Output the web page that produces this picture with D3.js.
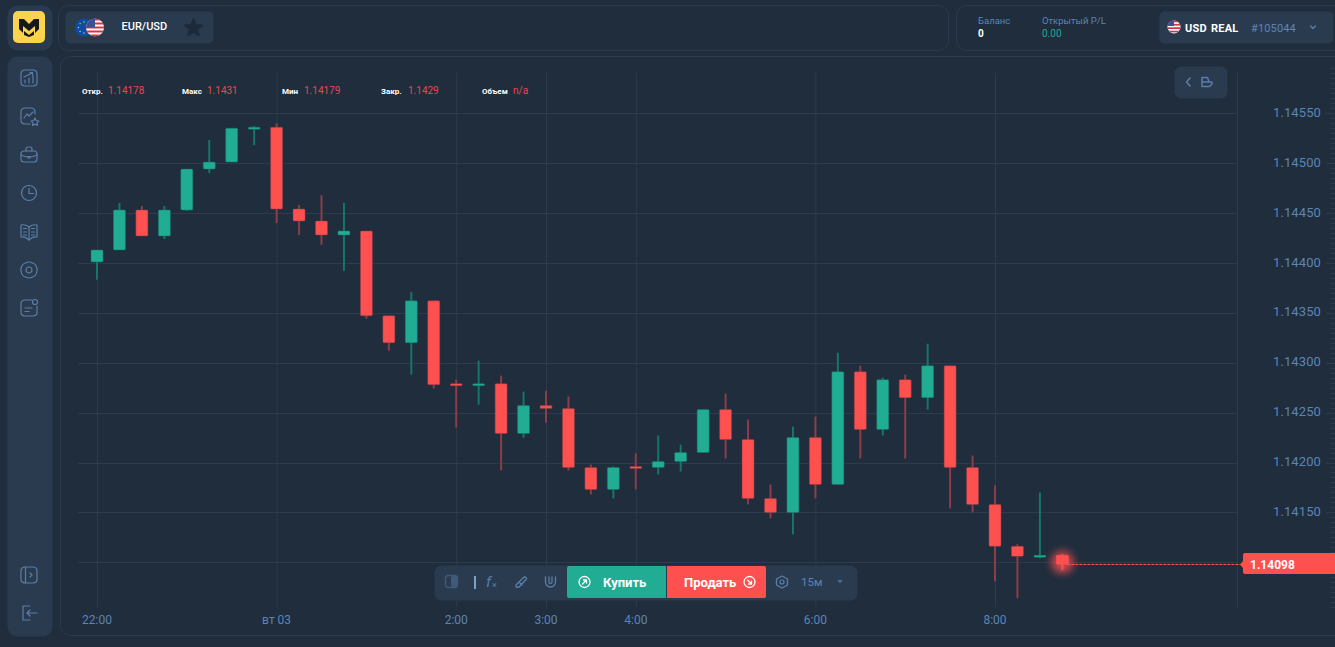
<!DOCTYPE html>
<html>
<head>
<meta charset="utf-8">
<script src="https://cdn.jsdelivr.net/npm/d3@7"></script>
<style>
  html, body { margin: 0; padding: 0; background: #1f2d3d; overflow: hidden; }
  svg { display: block; font-family: Roboto, sans-serif; }
</style>
</head>
<body>
<svg id="chart" width="1335" height="647"></svg>
<script>
// candles, 15 minutes apart, starting 22:00
var opens = [1.14401,1.14413,1.14453,1.14427,1.14453,1.14494,1.14501,1.14535,1.14536,1.14454,1.14442,1.14428,1.14432,1.14347,1.14320,1.14362,1.14279,1.14277,1.14279,1.14229,1.14257,1.14254,1.14195,1.14173,1.14196,1.14195,1.14201,1.14210,1.14253,1.14223,1.14164,1.14150,1.14225,1.14178,1.14291,1.14233,1.14283,1.14265,1.14297,1.14195,1.14158,1.14116,1.14106,1.14107];
var highs = [1.14413,1.14460,1.14457,1.14457,1.14494,1.14523,1.14535,1.14537,1.14540,1.14458,1.14468,1.14460,1.14432,1.14347,1.14371,1.14362,1.14283,1.14302,1.14287,1.14271,1.14272,1.14266,1.14198,1.14196,1.14209,1.14227,1.14218,1.14253,1.14269,1.14243,1.14178,1.14236,1.14246,1.14310,1.14297,1.14285,1.14288,1.14319,1.14297,1.14207,1.14177,1.14118,1.14170,1.14108];
var lows = [1.14383,1.14413,1.14427,1.14424,1.14452,1.14490,1.14501,1.14518,1.14440,1.14428,1.14418,1.14392,1.14344,1.14312,1.14288,1.14274,1.14235,1.14258,1.14192,1.14225,1.14240,1.14192,1.14168,1.14164,1.14173,1.14188,1.14191,1.14210,1.14204,1.14158,1.14144,1.14128,1.14164,1.14178,1.14204,1.14227,1.14204,1.14253,1.14154,1.14150,1.14081,1.14064,1.14104,1.14092];
var closes = [1.14413,1.14453,1.14427,1.14453,1.14494,1.14501,1.14535,1.14536,1.14454,1.14442,1.14428,1.14432,1.14347,1.14320,1.14362,1.14278,1.14277,1.14279,1.14229,1.14257,1.14254,1.14195,1.14173,1.14195,1.14194,1.14201,1.14210,1.14253,1.14223,1.14164,1.14150,1.14225,1.14178,1.14291,1.14233,1.14283,1.14265,1.14297,1.14195,1.14158,1.14116,1.14106,1.14107,1.14098];

var price_ticks = [1.1410,1.1415,1.1420,1.1425,1.1430,1.1435,1.1440,1.1445,1.1450,1.1455];
var minor_ticks = d3.range(1.14055,1.14595,0.00005);
var time_hours = [22,24,26,27,28,30,32];
var time_labels = ['22:00','вт 03','2:00','3:00','4:00','6:00','8:00'];
var ohlc_names = ['Откр.','Макс','Мин','Закр.','Объем'];
var ohlc_values = ['1.14178','1.1431','1.14179','1.1429','n/a'];
var last_price = 1.14098;

var bg = '#1f2d3d', panel = '#2a3b50', border = '#2b3a4d', grid = '#2c3b4e';
var green = '#21ad94', red = '#ff5050', green_wick = '#17756b', red_wick = '#8c3d48';
var label_col = '#5c85b5', icon_col = '#5b7ea6';

var svg = d3.select('#chart');

var start = new Date(2025, 5, 2, 22, 0);
function at_hour(h) { return d3.timeMinute.offset(start, (h - 22) * 60); }

var x = d3.scaleTime().domain([at_hour(22), at_hour(32)]).range([97, 995]);
var y = d3.scaleLinear().domain([1.141, 1.1455]).range([562.3, 113.2]);

// ---- panels
function box(x0, y0, w, h, r, fill, stroke) {
  return svg.append('rect')
    .attr('x', x0 + 0.5).attr('y', y0 + 0.5)
    .attr('width', w).attr('height', h).attr('rx', r)
    .attr('fill', fill).attr('stroke', stroke || 'none');
}
box(7, 5, 45, 45, 10, panel);
box(7, 56, 45, 580, 10, panel);
box(58, 5, 890, 45, 10, 'none', border);
box(956, 5, 400, 45, 10, 'none', border);
box(60, 56, 1300, 579, 10, 'none', border);

// ---- grid and axes
var grid_layer = svg.append('g');

var x_axis = d3.axisBottom(x)
  .tickValues(time_hours.map(at_hour))
  .tickFormat(function(d, i) { return time_labels[i]; })
  .tickSize(-534)
  .tickPadding(8);
var gx = grid_layer.append('g').attr('transform', 'translate(0,607)').call(x_axis);
gx.select('.domain').remove();
gx.selectAll('line').attr('stroke', grid);
gx.selectAll('text').attr('fill', label_col).attr('dx', -0.5)
  .style('font-size', '12px').style('font-family', 'Roboto');

// the 1.14100 label sits behind the last price tag, so it is left blank
var y_axis = d3.axisRight(y)
  .tickValues(price_ticks)
  .tickFormat(function(d) { return d === 1.1410 ? '' : d3.format('.5f')(d); })
  .tickSize(0)
  .tickPadding(36);
var gy = grid_layer.append('g').attr('transform', 'translate(1237,-1)').call(y_axis);
gy.select('.domain').remove();
gy.selectAll('text').attr('fill', label_col).style('font-size', '13px')
  .style('letter-spacing', '0.1px').style('font-family', 'Roboto');

grid_layer.append('g').selectAll('line')
  .data(price_ticks).enter().append('line')
  .attr('x1', 78).attr('x2', 1237)
  .attr('y1', function(d) { return Math.round(y(d)) + 0.5; })
  .attr('y2', function(d) { return Math.round(y(d)) + 0.5; })
  .attr('stroke', grid);

grid_layer.append('line')
  .attr('x1', 1237.5).attr('x2', 1237.5).attr('y1', 73).attr('y2', 607)
  .attr('stroke', grid);

// small ticks on the right edge of the price scale
grid_layer.append('g').selectAll('line')
  .data(minor_ticks).enter().append('line')
  .attr('x1', 1330).attr('x2', 1335)
  .attr('y1', function(d) { return Math.round(y(d)) + 0.5; })
  .attr('y2', function(d) { return Math.round(y(d)) + 0.5; })
  .attr('stroke', grid);
grid_layer.append('g').selectAll('line')
  .data(price_ticks).enter().append('line')
  .attr('x1', 1326).attr('x2', 1335)
  .attr('y1', function(d) { return Math.round(y(d)) + 0.5; })
  .attr('y2', function(d) { return Math.round(y(d)) + 0.5; })
  .attr('stroke', grid);

// ---- candles
var defs = svg.append('defs');
defs.append('filter').attr('id', 'glow')
  .attr('x', '-100%').attr('y', '-100%').attr('width', '300%').attr('height', '300%')
  .append('feGaussianBlur').attr('stdDeviation', 4);

var candles = opens.map(function(o, i) {
  return { i: i, open: o, high: highs[i], low: lows[i], close: closes[i],
           time: d3.timeMinute.offset(start, i * 15) };
});
var last_i = candles.length - 1;

svg.append('circle')
  .attr('cx', x(candles[last_i].time)).attr('cy', y(last_price) - 2).attr('r', 11)
  .attr('fill', red).attr('opacity', 0.8).attr('filter', 'url(#glow)');

var candle_g = svg.append('g').selectAll('g')
  .data(candles).enter().append('g')
  .attr('transform', function(d) { return 'translate(' + x(d.time) + ',0)'; });

function wick_col(d) {
  if (d.i === last_i) return red;
  return d.close >= d.open ? green_wick : red_wick;
}

candle_g.append('line')
  .attr('y1', function(d) { return y(d.high); })
  .attr('y2', function(d) { return y(d.low); })
  .attr('stroke', wick_col)
  .attr('stroke-width', 2);

candle_g.append('rect')
  .attr('x', -6).attr('width', 12).attr('rx', 1)
  .attr('y', function(d) { return y(Math.max(d.open, d.close)); })
  .attr('height', function(d) { return Math.max(2, Math.abs(y(d.open) - y(d.close))); })
  .attr('fill', function(d) { return d.close >= d.open ? green : red; })
  .attr('stroke', wick_col)
  .attr('stroke-width', 0.5);

// ---- last price line and tag
var tag_y = Math.round(y(last_price));
svg.append('line')
  .attr('x1', x(candles[last_i].time) + 5).attr('x2', 1243)
  .attr('y1', tag_y + 0.5).attr('y2', tag_y + 0.5)
  .attr('stroke', red).attr('stroke-dasharray', '3,1');

svg.append('path')
  .attr('d', 'M1240,' + (tag_y + 0.5) + ' L1243,' + (tag_y - 3) + ' V' + (tag_y - 9) + ' Q1243,' + (tag_y - 11) + ' 1245,' + (tag_y - 11) +
    ' H1335 V' + (tag_y + 10) + ' H1245 Q1243,' + (tag_y + 10) + ' 1243,' + (tag_y + 8) + ' V' + (tag_y + 4) + ' Z')
  .attr('fill', red);
svg.append('text')
  .attr('x', 1250).attr('y', tag_y + 4.5)
  .attr('fill', '#fff').attr('font-weight', 700).attr('font-size', 12)
  .text(d3.format('.5f')(last_price));

// ---- OHLC legend
var ohlc_x = [82, 182, 282, 381, 482], ohlc_val_x = [108, 207, 304, 408, 513];
ohlc_names.forEach(function(n, i) {
  svg.append('text').attr('x', ohlc_x[i]).attr('y', 93.5)
    .attr('fill', '#fff').attr('font-size', 8).attr('font-weight', 700).text(n);
  svg.append('text').attr('x', ohlc_val_x[i]).attr('y', 94)
    .attr('fill', '#ee4450').attr('font-size', 10).text(ohlc_values[i]);
});

// ---- collapse button top right of the chart
box(1174, 66, 53, 32, 7, panel);
function icon(d, sw, col) {
  return svg.append('path').attr('d', d).attr('fill', 'none')
    .attr('stroke', col || icon_col).attr('stroke-width', sw || 1.2)
    .attr('stroke-linecap', 'round').attr('stroke-linejoin', 'round');
}
icon('M1190,78 L1186.5,82 L1190,86', 1.5);
icon('M1202,77.5 H1207.5 L1209,82 H1212 V84 L1209.5,86.5 H1202 Z M1202,82 H1209', 1.5);

// ---- header left
var logo = svg.append('g');
logo.append('rect').attr('x', 13).attr('y', 11).attr('width', 32).attr('height', 32).attr('rx', 5).attr('fill', '#fdd34e');
logo.append('path').attr('d', 'M19,19 L24,19 L29,24 L34,19 L39,19 L39,29 L35,33 L35,26 L29,31 L23,26 L23,33 L19,29 Z M24,31 L29,35 L34,31 L34,35 L29,37 L24,35 Z')
  .attr('fill', '#15181c');

box(65, 11, 148, 32, 5, panel);
svg.append('circle').attr('cx', 84).attr('cy', 27.5).attr('r', 9).attr('fill', '#0b4ea2');
d3.range(8).forEach(function(i) {
  var a = i * Math.PI / 4;
  svg.append('circle').attr('cx', 84 + 5.5 * Math.cos(a)).attr('cy', 27.5 + 5.5 * Math.sin(a)).attr('r', 0.7).attr('fill', '#f5d33e');
});
defs.append('clipPath').attr('id', 'us1').append('circle').attr('cx', 95).attr('cy', 27.5).attr('r', 9);
var us1 = svg.append('g').attr('clip-path', 'url(#us1)');
us1.append('rect').attr('x', 86).attr('y', 18.5).attr('width', 18).attr('height', 18).attr('fill', '#fff');
d3.range(5).forEach(function(i) {
  us1.append('rect').attr('x', 86).attr('y', 18.5 + i * 4).attr('width', 18).attr('height', 2).attr('fill', '#d8343f');
});
us1.append('rect').attr('x', 86).attr('y', 18.5).attr('width', 9).attr('height', 9).attr('fill', '#3c4f95');

svg.append('text').attr('x', 121.5).attr('y', 30).attr('fill', '#fff').attr('font-size', 11).attr('font-weight', 500).text('EUR/USD');
svg.append('path')
  .attr('d', d3.symbol().type(d3.symbolStar).size(80)())
  .attr('transform', 'translate(193.5,28)')
  .attr('fill', '#1c2a3a').attr('stroke', '#1c2a3a').attr('stroke-width', 2.5).attr('stroke-linejoin', 'round');

// ---- header right
svg.append('text').attr('x', 978).attr('y', 24).attr('fill', label_col).attr('font-size', 9.5).text('Баланс');
svg.append('text').attr('x', 978).attr('y', 37).attr('fill', '#fff').attr('font-size', 10).attr('font-weight', 700).text('0');
svg.append('text').attr('x', 1042).attr('y', 24).attr('fill', label_col).attr('font-size', 9.5).text('Открытый P/L');
svg.append('text').attr('x', 1042).attr('y', 37).attr('fill', '#1fa98f').attr('font-size', 10).text('0.00');

box(1159, 11, 174, 32, 5, panel);
defs.append('clipPath').attr('id', 'us2').append('circle').attr('cx', 1174).attr('cy', 27).attr('r', 6.5);
var us2 = svg.append('g').attr('clip-path', 'url(#us2)');
us2.append('rect').attr('x', 1167).attr('y', 20).attr('width', 14).attr('height', 14).attr('fill', '#fff');
d3.range(4).forEach(function(i) {
  us2.append('rect').attr('x', 1167).attr('y', 20.5 + i * 3.4).attr('width', 14).attr('height', 1.7).attr('fill', '#d8343f');
});
us2.append('rect').attr('x', 1167).attr('y', 20).attr('width', 7).attr('height', 6).attr('fill', '#3c4f95');
svg.append('text').attr('x', 1185).attr('y', 32).attr('fill', '#fff').attr('font-size', 11).attr('font-weight', 700)
  .attr('letter-spacing', 0.25).attr('word-spacing', 1).text('USD REAL');
svg.append('text').attr('x', 1251).attr('y', 32).attr('fill', label_col).attr('font-size', 11).attr('letter-spacing', 0.15).text('#105044');
icon('M1310.5,26 L1313,28.5 L1315.5,26', 1.3);

// ---- sidebar icons
function side_icon(cy, parts) {
  var g = svg.append('g').attr('transform', 'translate(29,' + cy + ')')
    .attr('fill', 'none').attr('stroke', icon_col).attr('stroke-width', 1.2)
    .attr('stroke-linecap', 'round').attr('stroke-linejoin', 'round');
  parts.forEach(function(p) { g.append('path').attr('d', p); });
}
var rounded = 'M-4,-8 H4 Q8,-8 8,-4 V4 Q8,8 4,8 H-4 Q-8,8 -8,4 V-4 Q-8,-8 -4,-8 Z';
side_icon(78, [rounded, 'M-4,5 V2 M0,5 V0 M4,5 V-2 M-5,-1 L3,-5 M1,-5.5 H3.5 V-3']);
side_icon(116, ['M6,-2 V-4 Q6,-8 2,-8 H-4 Q-8,-8 -8,-4 V4 Q-8,8 -4,8 H1', 'M-5,2 L-2,-2 L0,0 L4,-4', 'M6,2 L7.2,4.5 L9.8,5 L8,6.8 L8.4,9.4 L6,8.2 L3.6,9.4 L4,6.8 L2.2,5 L4.8,4.5 Z']);
side_icon(155, ['M-5,-4 H5 Q8,-4 8,-1 V4 Q8,7 5,7 H-5 Q-8,7 -8,4 V-1 Q-8,-4 -5,-4 Z', 'M-3,-4 V-6 Q-3,-8 -1,-8 H1 Q3,-8 3,-6 V-4', 'M-8,0 Q0,4 8,0', 'M-1,1.5 H1 V3 H-1 Z']);
side_icon(193, ['M-7.5,0 A7.5,7.5 0 1 1 7.5,0 A7.5,7.5 0 1 1 -7.5,0 Z', 'M0,-4.5 V0.5 H4.5']);
side_icon(232, ['M0,-5 Q-4,-8 -8,-7 V5 Q-4,4 0,8 Q4,4 8,5 V-7 Q4,-8 0,-5 Z', 'M0,-5 V8', 'M-5.5,-3.5 H-2.5 M-5.5,0 H-2.5 M-5.5,3 H-2.5 M2.5,-3.5 H5.5 M2.5,0 H5.5 M2.5,3 H5.5']);
side_icon(270, ['M-3.5,-7 Q0,-9 3.5,-7 Q7,-6 7.8,-2 Q8.5,0 7.8,2 Q7,6 3.5,7 Q0,9 -3.5,7 Q-7,6 -7.8,2 Q-8.5,0 -7.8,-2 Q-7,-6 -3.5,-7 Z', 'M-3,0 A3,3 0 1 1 3,0 A3,3 0 1 1 -3,0 Z']);
side_icon(308, ['M3,-8 H-4 Q-8,-8 -8,-4 V4 Q-8,8 -4,8 H4 Q8,8 8,4 V-2', 'M3.5,-6 A2.5,2.5 0 1 1 8.5,-6 A2.5,2.5 0 1 1 3.5,-6 Z', 'M-4,0 H3 M-4,3.5 H0']);
side_icon(575, [rounded, 'M-3.5,-8 V8', 'M1,-2 L3,0 L1,2']);
side_icon(613, ['M1,-7 H-6 V7 H1', 'M-2,0 H8 M-2,0 L1,-3 M-2,0 L1,3']);

// ---- bottom toolbar
box(434, 565, 423, 35, 7, panel);
box(445, 575, 12, 12, 3, 'none', '#3f5a78').attr('stroke-width', 1.4);
svg.append('rect').attr('x', 451).attr('y', 575.5).attr('width', 6.5).attr('height', 12).attr('rx', 2).attr('fill', '#3f5a78');
svg.append('rect').attr('x', 474).attr('y', 576).attr('width', 2).attr('height', 13).attr('fill', '#7f9fc4');
svg.append('text').attr('x', 486).attr('y', 587).attr('fill', icon_col).attr('font-size', 15).attr('font-style', 'italic').text('f');
svg.append('text').attr('x', 492).attr('y', 588).attr('fill', icon_col).attr('font-size', 9).text('×');
icon('M516,585 L524,577 Q527,577 526.5,579 L519,587 Q515,588 516,585 Z M519,582 L522,585', 1.3);
icon('M545.5,577 V582 A5,5 0 0 0 555.5,582 V577 M549,577 V582 A1.5,1.5 0 0 0 552,582 V577', 1.3);

svg.append('path').attr('fill', green)
  .attr('d', 'M569,566 H666 V598 H569 Q567,598 567,596 V568 Q567,566 569,566 Z');
svg.append('path').attr('fill', red)
  .attr('d', 'M667,566 H764 Q766,566 766,568 V596 Q766,598 764,598 H667 Z');
svg.append('circle').attr('cx', 584.5).attr('cy', 582).attr('r', 5.5).attr('fill', 'none').attr('stroke', '#fff').attr('stroke-width', 1.3);
icon('M582.5,584 L586.5,580 M583.5,580 H586.5 V583', 1.3, '#fff');
svg.append('text').attr('x', 603).attr('y', 586.5).attr('fill', '#fff').attr('font-size', 13).attr('font-weight', 700).text('Купить');
svg.append('text').attr('x', 684).attr('y', 586.5).attr('fill', '#fff').attr('font-size', 13).attr('font-weight', 700).text('Продать');
svg.append('circle').attr('cx', 749.5).attr('cy', 582).attr('r', 5.5).attr('fill', 'none').attr('stroke', '#fff').attr('stroke-width', 1.3);
icon('M747.5,580 L751.5,584 M748.5,584 H751.5 V581', 1.3, '#fff');
icon('M782,576 L787.5,579 V585 L782,588 L776.5,585 V579 Z', 1.3);
svg.append('circle').attr('cx', 782).attr('cy', 582).attr('r', 2).attr('fill', 'none').attr('stroke', icon_col).attr('stroke-width', 1.2);
svg.append('text').attr('x', 801).attr('y', 586).attr('fill', label_col).attr('font-size', 11.5).text('15м');
icon('M838.5,580.5 L840,582 L841.5,580.5', 1.2);
</script>
</body>
</html>
